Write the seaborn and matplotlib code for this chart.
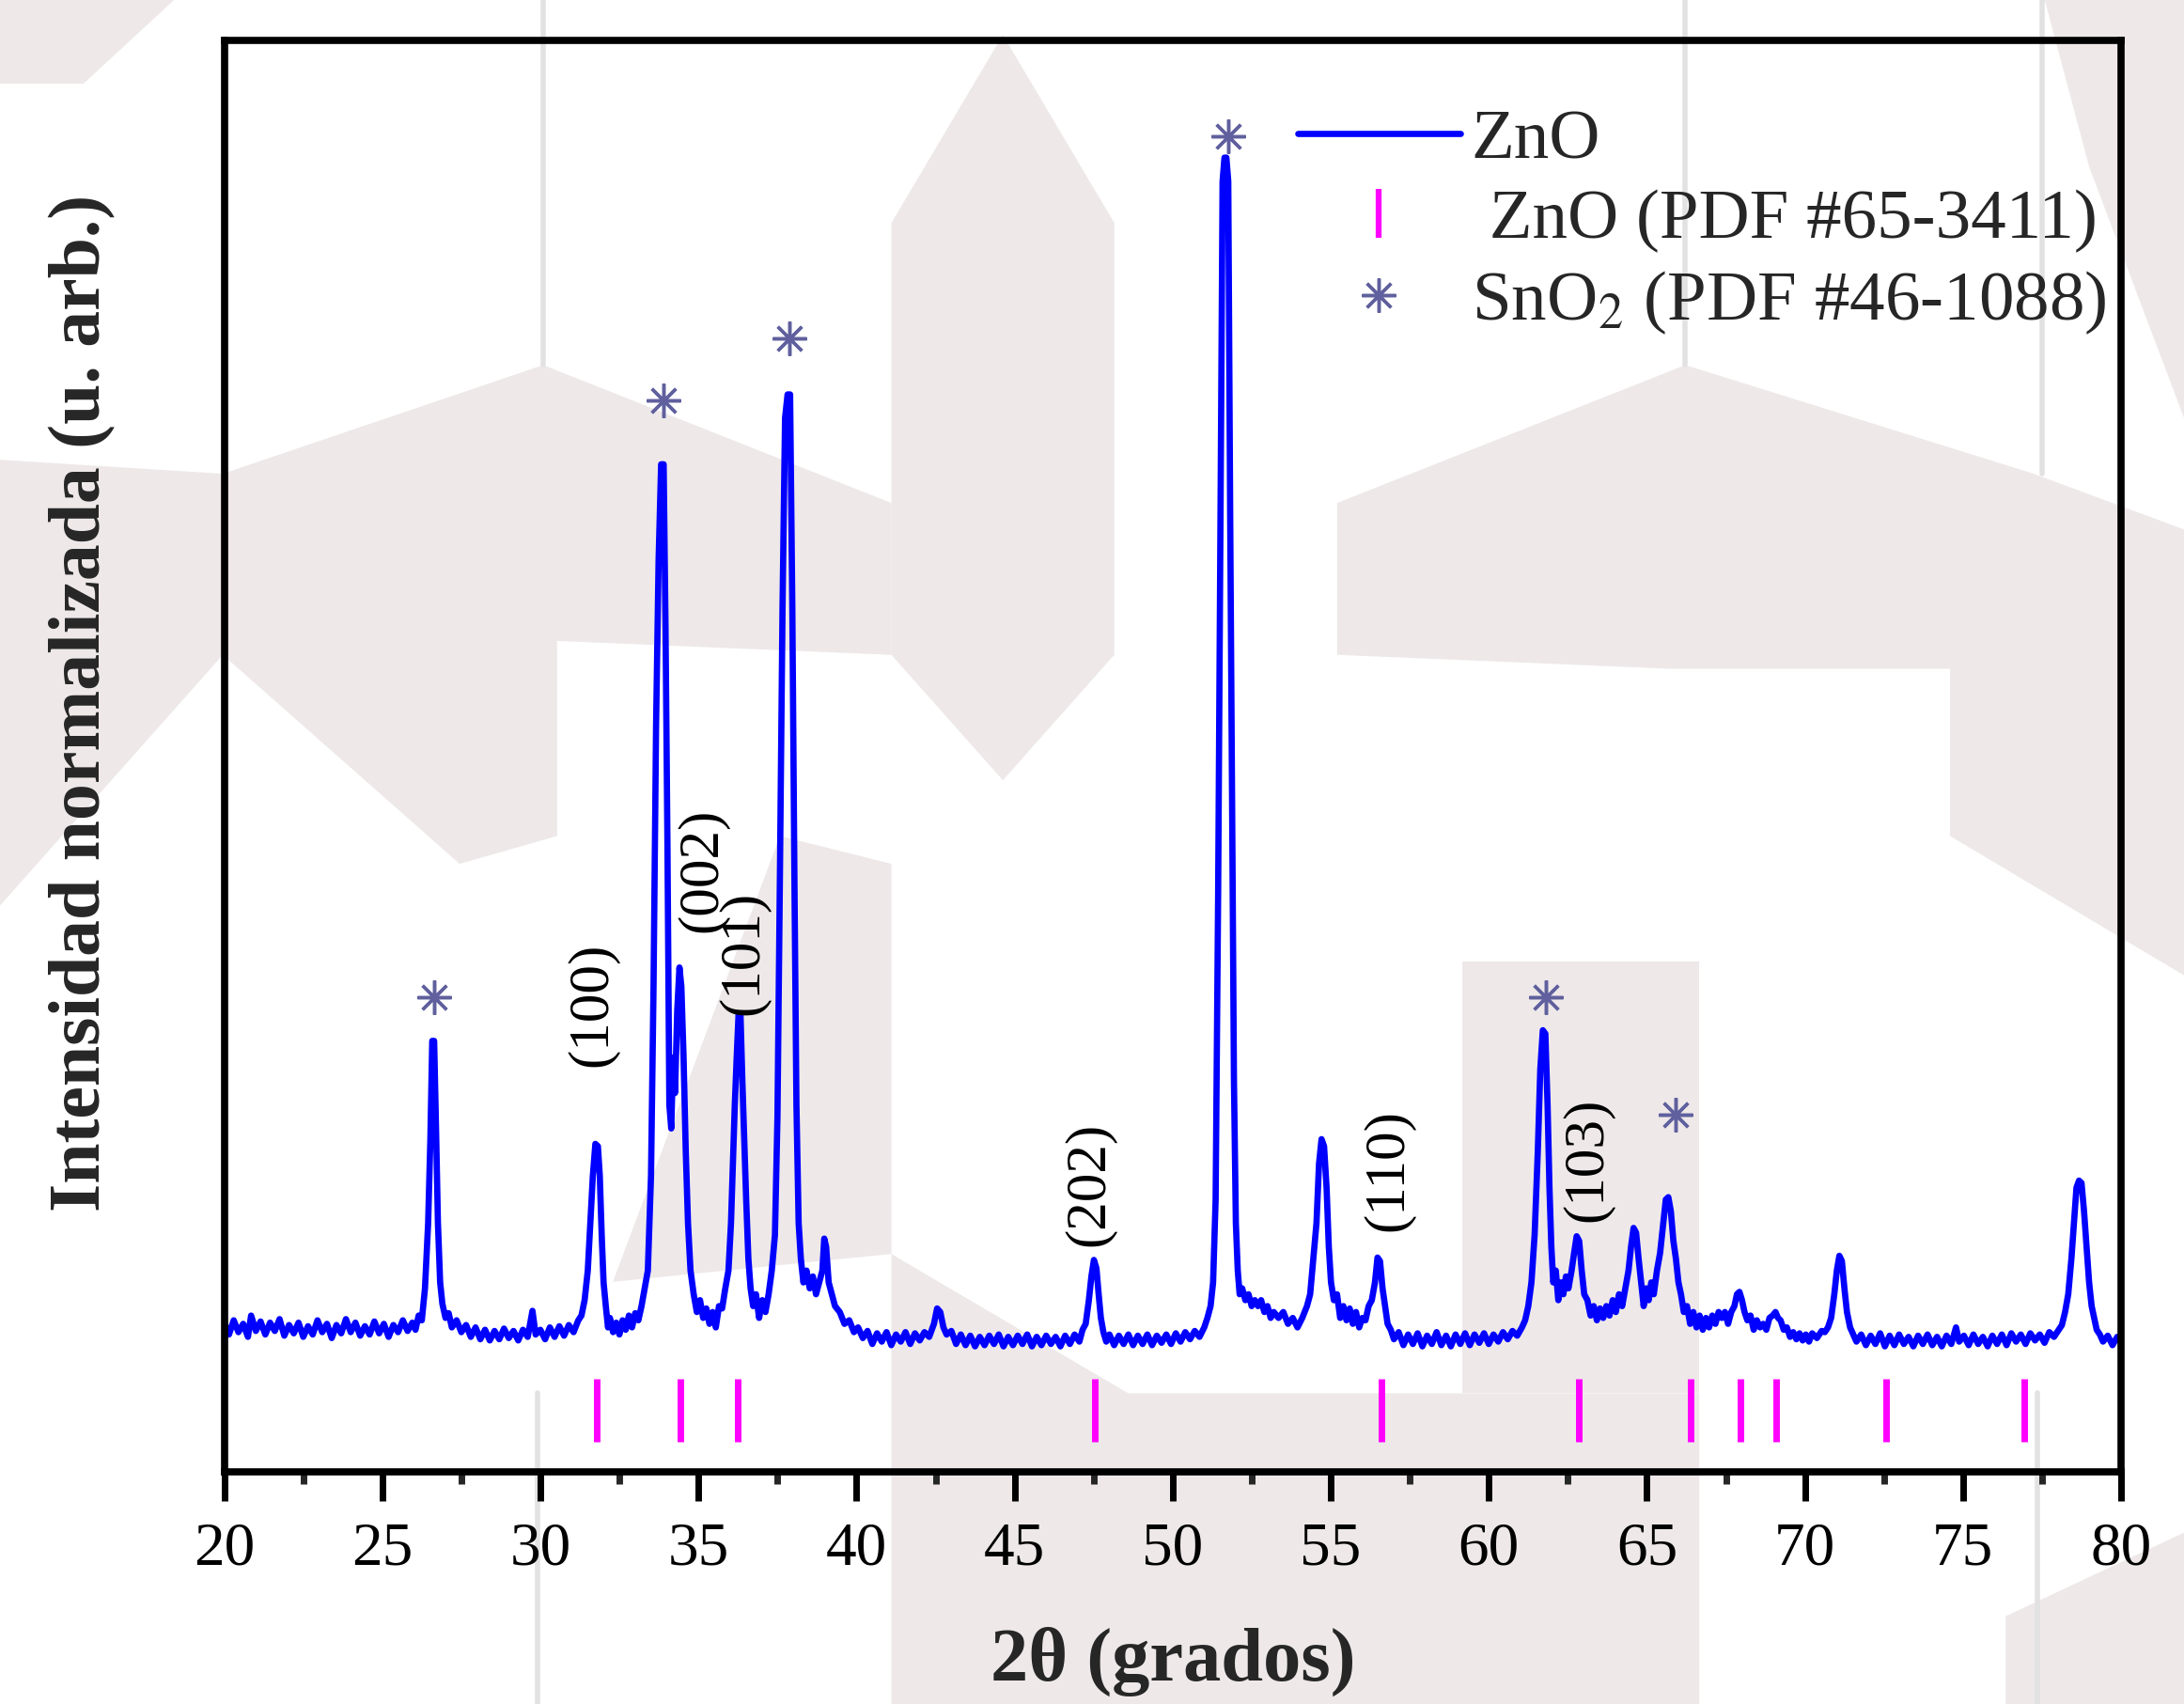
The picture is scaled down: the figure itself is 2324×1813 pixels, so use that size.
import matplotlib
matplotlib.use("Agg")
import matplotlib.pyplot as plt
import seaborn as sns
from matplotlib.lines import Line2D
from matplotlib.patches import Polygon
from matplotlib.ticker import MultipleLocator

sns.set_theme(style="white")
plt.rcParams["font.family"] = ["Liberation Serif", "DejaVu Serif"]
plt.rcParams["mathtext.fontset"] = "stix"

# -------------------------------
# Data (normalised intensity)
# -------------------------------
two_theta = [
    20.0, 20.15, 20.3, 20.45, 20.6, 20.75, 20.85, 21.0, 21.15, 21.3, 21.45, 21.6, 21.75, 21.9,
    22.05, 22.2, 22.35, 22.5, 22.65, 22.8, 22.95, 23.1, 23.25, 23.4, 23.55, 23.7, 23.85, 24.0,
    24.15, 24.3, 24.45, 24.6, 24.75, 24.9, 25.05, 25.2, 25.35, 25.5, 25.65, 25.8, 25.95, 26.05,
    26.15, 26.25, 26.35, 26.45, 26.52, 26.58, 26.64, 26.7, 26.76, 26.83, 26.9, 27.0, 27.1, 27.2,
    27.35, 27.5, 27.65, 27.8, 27.95, 28.1, 28.25, 28.4, 28.55, 28.7, 28.85, 29.0, 29.15, 29.3,
    29.45, 29.6, 29.75, 29.85, 30.0, 30.15, 30.3, 30.45, 30.6, 30.75, 30.9, 31.05, 31.2, 31.3,
    31.4, 31.5, 31.58, 31.66, 31.74, 31.82, 31.88, 31.94, 32.0, 32.07, 32.14, 32.2, 32.3, 32.4,
    32.5, 32.6, 32.7, 32.8, 32.9, 33.0, 33.1, 33.2, 33.3, 33.4, 33.5, 33.58, 33.66, 33.74,
    33.82, 33.9, 33.96, 34.02, 34.08, 34.14, 34.2, 34.26, 34.33, 34.4, 34.46, 34.53, 34.6,
    34.67, 34.75, 34.85, 34.95, 35.05, 35.15, 35.25, 35.35, 35.45, 35.55, 35.65, 35.75, 35.85,
    35.95, 36.03, 36.09, 36.15, 36.21, 36.27, 36.33, 36.39, 36.45, 36.51, 36.58, 36.65, 36.73,
    36.82, 36.92, 37.02, 37.12, 37.22, 37.32, 37.42, 37.5, 37.58, 37.66, 37.74, 37.82, 37.9,
    37.97, 38.04, 38.1, 38.17, 38.24, 38.32, 38.42, 38.52, 38.62, 38.72, 38.82, 38.92, 38.98,
    39.04, 39.12, 39.22, 39.32, 39.47, 39.62, 39.77, 39.92, 40.05, 40.2, 40.35, 40.5, 40.65,
    40.8, 40.95, 41.1, 41.25, 41.4, 41.55, 41.7, 41.85, 42.0, 42.15, 42.3, 42.45, 42.55, 42.65,
    42.75, 42.85, 43.0, 43.15, 43.3, 43.45, 43.6, 43.75, 43.9, 44.05, 44.2, 44.35, 44.5, 44.65,
    44.8, 44.95, 45.1, 45.25, 45.4, 45.55, 45.7, 45.85, 46.0, 46.15, 46.3, 46.45, 46.6, 46.75,
    46.9, 47.05, 47.15, 47.25, 47.35, 47.43, 47.51, 47.59, 47.66, 47.73, 47.81, 47.9, 48.0,
    48.15, 48.3, 48.45, 48.6, 48.75, 48.9, 49.05, 49.2, 49.35, 49.5, 49.65, 49.8, 49.95, 50.1,
    50.25, 50.4, 50.55, 50.7, 50.85, 51.0, 51.1, 51.2, 51.28, 51.36, 51.44, 51.52, 51.58,
    51.64, 51.7, 51.76, 51.82, 51.88, 51.94, 52.0, 52.06, 52.12, 52.2, 52.3, 52.4, 52.5, 52.6,
    52.7, 52.8, 52.9, 53.0, 53.1, 53.2, 53.35, 53.5, 53.65, 53.8, 53.95, 54.1, 54.25, 54.35,
    54.45, 54.55, 54.63, 54.71, 54.79, 54.87, 54.94, 55.01, 55.1, 55.2, 55.3, 55.4, 55.5, 55.6,
    55.7, 55.8, 55.9, 56.0, 56.1, 56.2, 56.3, 56.4, 56.48, 56.56, 56.64, 56.72, 56.8, 56.9,
    57.0, 57.15, 57.3, 57.45, 57.6, 57.75, 57.9, 58.05, 58.2, 58.35, 58.5, 58.65, 58.8, 58.95,
    59.1, 59.25, 59.4, 59.55, 59.7, 59.85, 60.0, 60.15, 60.3, 60.45, 60.6, 60.75, 60.9, 61.05,
    61.15, 61.25, 61.35, 61.45, 61.55, 61.63, 61.71, 61.79, 61.86, 61.92, 61.98, 62.04, 62.12,
    62.2, 62.28, 62.36, 62.44, 62.52, 62.62, 62.7, 62.78, 62.86, 62.94, 63.02, 63.12, 63.22,
    63.32, 63.42, 63.52, 63.62, 63.72, 63.82, 63.92, 64.02, 64.12, 64.22, 64.32, 64.42, 64.5,
    64.58, 64.66, 64.74, 64.82, 64.9, 64.98, 65.06, 65.14, 65.22, 65.32, 65.42, 65.52, 65.6,
    65.68, 65.76, 65.84, 65.92, 66.0, 66.08, 66.17, 66.27, 66.37, 66.47, 66.57, 66.67, 66.77,
    66.87, 66.97, 67.07, 67.17, 67.27, 67.37, 67.47, 67.57, 67.67, 67.77, 67.85, 67.93, 68.01,
    68.09, 68.18, 68.28, 68.38, 68.48, 68.58, 68.68, 68.78, 68.88, 68.98, 69.07, 69.15, 69.23,
    69.33, 69.43, 69.53, 69.63, 69.73, 69.83, 69.93, 70.03, 70.13, 70.23, 70.38, 70.53, 70.63,
    70.73, 70.83, 70.93, 71.01, 71.09, 71.17, 71.25, 71.33, 71.43, 71.53, 71.63, 71.78, 71.93,
    72.08, 72.23, 72.38, 72.53, 72.68, 72.83, 72.98, 73.13, 73.28, 73.43, 73.58, 73.73, 73.88,
    74.03, 74.18, 74.33, 74.48, 74.63, 74.78, 74.88, 75.03, 75.18, 75.33, 75.48, 75.63, 75.78,
    75.93, 76.08, 76.23, 76.38, 76.53, 76.68, 76.83, 76.98, 77.13, 77.28, 77.43, 77.58, 77.73,
    77.88, 78.03, 78.13, 78.23, 78.33, 78.43, 78.51, 78.59, 78.67, 78.75, 78.83, 78.91, 78.99,
    79.07, 79.15, 79.23, 79.33, 79.43, 79.58, 79.73, 79.88, 80.0,
]

intensity = [
    0.016, 0.006, 0.018, 0.008, 0.015, 0.004, 0.022, 0.009, 0.017, 0.006, 0.016, 0.009, 0.019, 0.005,
    0.014, 0.007, 0.016, 0.004, 0.013, 0.006, 0.018, 0.008, 0.015, 0.003, 0.014, 0.007, 0.019, 0.008,
    0.016, 0.005, 0.013, 0.006, 0.017, 0.007, 0.015, 0.004, 0.014, 0.008, 0.018, 0.009, 0.016, 0.010,
    0.022, 0.018, 0.045, 0.100, 0.170, 0.254, 0.254, 0.180, 0.100, 0.050, 0.032, 0.020, 0.024, 0.012,
    0.018, 0.008, 0.014, 0.004, 0.012, 0.002, 0.010, 0.001, 0.009, 0.002, 0.011, 0.003, 0.009, 0.001,
    0.010, 0.004, 0.026, 0.006, 0.010, 0.002, 0.012, 0.004, 0.013, 0.005, 0.014, 0.008, 0.018, 0.022,
    0.035, 0.060, 0.100, 0.140, 0.167, 0.165, 0.140, 0.090, 0.050, 0.030, 0.012, 0.020, 0.008, 0.016,
    0.006, 0.018, 0.010, 0.022, 0.012, 0.024, 0.018, 0.030, 0.045, 0.060, 0.140, 0.300, 0.520, 0.660,
    0.741, 0.741, 0.600, 0.420, 0.200, 0.180, 0.240, 0.210, 0.280, 0.316, 0.300, 0.240, 0.160,
    0.100, 0.060, 0.040, 0.025, 0.035, 0.020, 0.028, 0.015, 0.025, 0.012, 0.030, 0.028, 0.045,
    0.060, 0.100, 0.150, 0.200, 0.240, 0.277, 0.277, 0.220, 0.170, 0.120, 0.070, 0.045, 0.030,
    0.040, 0.020, 0.035, 0.025, 0.040, 0.060, 0.090, 0.190, 0.400, 0.620, 0.780, 0.800, 0.800,
    0.620, 0.380, 0.200, 0.100, 0.070, 0.050, 0.060, 0.045, 0.055, 0.040, 0.050, 0.060, 0.087,
    0.080, 0.050, 0.040, 0.030, 0.025, 0.015, 0.018, 0.008, 0.012, 0.003, 0.009, -0.002, 0.007,
    0.000, 0.008, -0.003, 0.006, 0.000, 0.008, -0.002, 0.007, 0.001, 0.008, 0.004, 0.015, 0.028, 0.025,
    0.012, 0.006, 0.009, -0.002, 0.006, -0.003, 0.005, -0.004, 0.004, -0.003, 0.005, -0.002, 0.006, -0.004,
    0.004, -0.003, 0.005, -0.002, 0.006, -0.004, 0.004, -0.003, 0.005, -0.002, 0.004, -0.004, 0.005, -0.002,
    0.006, 0.000, 0.010, 0.015, 0.035, 0.055, 0.069, 0.062, 0.040, 0.020, 0.008, 0.000, 0.006,
    -0.003, 0.005, -0.002, 0.006, -0.003, 0.005, -0.002, 0.006, -0.003, 0.005, -0.001, 0.006, -0.002, 0.007,
    0.000, 0.008, 0.002, 0.009, 0.004, 0.012, 0.020, 0.030, 0.050, 0.120, 0.380, 0.720, 0.980,
    1.000, 1.000, 0.980, 0.700, 0.460, 0.220, 0.100, 0.060, 0.040, 0.045, 0.035, 0.040, 0.030, 0.035,
    0.030, 0.035, 0.025, 0.030, 0.020, 0.025, 0.020, 0.025, 0.015, 0.020, 0.012, 0.020, 0.030, 0.040,
    0.070, 0.100, 0.150, 0.171, 0.165, 0.130, 0.080, 0.050, 0.035, 0.040, 0.020, 0.030, 0.018, 0.028,
    0.015, 0.025, 0.012, 0.020, 0.018, 0.030, 0.035, 0.050, 0.071, 0.068, 0.045, 0.030, 0.015, 0.010,
    0.002, 0.008, -0.003, 0.006, -0.002, 0.007, -0.004, 0.005, -0.002, 0.008, -0.003, 0.005, -0.004, 0.006,
    -0.002, 0.007, -0.003, 0.006, -0.001, 0.007, -0.002, 0.006, 0.000, 0.008, 0.002, 0.009, 0.005, 0.012,
    0.018, 0.030, 0.050, 0.090, 0.160, 0.230, 0.263, 0.260, 0.200, 0.130, 0.080, 0.050, 0.060,
    0.035, 0.050, 0.040, 0.055, 0.045, 0.060, 0.075, 0.089, 0.085, 0.060, 0.040, 0.035, 0.022,
    0.030, 0.018, 0.028, 0.020, 0.030, 0.022, 0.035, 0.025, 0.040, 0.030, 0.045, 0.060, 0.080,
    0.096, 0.092, 0.070, 0.050, 0.030, 0.045, 0.035, 0.050, 0.040, 0.060, 0.075, 0.100, 0.120,
    0.122, 0.110, 0.085, 0.070, 0.050, 0.040, 0.025, 0.030, 0.015, 0.025, 0.012, 0.022, 0.010,
    0.020, 0.012, 0.022, 0.015, 0.025, 0.020, 0.025, 0.015, 0.025, 0.030, 0.040, 0.042, 0.035,
    0.025, 0.018, 0.022, 0.010, 0.018, 0.012, 0.015, 0.010, 0.020, 0.022, 0.025, 0.020, 0.018,
    0.010, 0.012, 0.004, 0.008, 0.002, 0.007, 0.001, 0.006, 0.000, 0.007, 0.003, 0.009, 0.008,
    0.012, 0.020, 0.040, 0.060, 0.0725, 0.068, 0.045, 0.025, 0.012, 0.006, 0.000, 0.006, -0.003,
    0.005, -0.002, 0.007, -0.004, 0.005, -0.003, 0.006, -0.002, 0.004, -0.004, 0.005, -0.002, 0.006,
    -0.003, 0.004, -0.004, 0.005, -0.002, 0.012, 0.000, 0.005, -0.003, 0.006, -0.002, 0.004, -0.004,
    0.005, -0.002, 0.006, -0.003, 0.007, 0.000, 0.006, -0.002, 0.007, 0.001, 0.006, -0.001, 0.008,
    0.004, 0.010, 0.014, 0.025, 0.040, 0.070, 0.100, 0.130, 0.136, 0.134, 0.110, 0.080, 0.050,
    0.030, 0.020, 0.010, 0.006, 0.000, 0.005, -0.003, 0.004, 0.000,
]

# ZnO reference lines (PDF #65-3411)
zno_ref_2theta = [31.77, 34.42, 36.25, 47.54, 56.60, 62.86, 66.38, 67.96, 69.10, 72.56, 76.95]

# SnO2 peaks marked with asterisks (PDF #46-1088)
sno2_2theta = [26.65, 33.88, 37.88, 51.76, 61.82, 65.92]
sno2_marker_y = [0.291, 0.795, 0.847, 1.018, 0.291, 0.192]

# Miller indices of the ZnO peaks
hkl_labels = ["(100)", "(002)", "(101)", "(202)", "(110)", "(103)"]
hkl_2theta = [31.64, 35.12, 36.45, 47.36, 56.83, 63.13]
hkl_y = [0.285, 0.398, 0.328, 0.133, 0.145, 0.154]

W, H = 2324, 1813
fig = plt.figure(figsize=(W / 100, H / 100), dpi=100)
fig.patch.set_facecolor("white")

# -------------------------------
# Background watermark (light tiled pattern)
# -------------------------------
def fpt(pts):
    return [(x / 1568, 1 - y / 1223) for x, y in pts]

bg_gray = "#eee8e9"
gray_polys = [
    [(0, 0), (125, 0), (60, 60), (0, 60)],
    [(720, 25), (800, 160), (800, 470), (720, 560), (640, 470), (640, 160)],
    [(390, 262), (640, 361), (640, 470), (400, 460), (400, 600), (330, 620), (160, 470), (160, 340)],
    [(1210, 262), (1460, 340), (1568, 380), (1568, 700), (1400, 600), (1400, 480), (1200, 480),
     (960, 470), (960, 361)],
    [(0, 330), (160, 340), (160, 470), (0, 650)],
    [(560, 600), (640, 620), (640, 900), (440, 920)],
    [(640, 900), (810, 1000), (1220, 1000), (1220, 1223), (640, 1223)],
    [(1050, 690), (1220, 690), (1220, 1000), (1050, 1000)],
    [(1440, 1160), (1568, 1100), (1568, 1223), (1440, 1223)],
    [(1468, 0), (1568, 0), (1568, 300), (1500, 120)],
]
for pts in gray_polys:
    fig.add_artist(Polygon(fpt(pts), closed=True, facecolor=bg_gray, edgecolor="none",
                           transform=fig.transFigure, zorder=-10))

bg_lines = [
    [(390, 0), (390, 262)], [(1210, 0), (1210, 262)], [(1466, 0), (1466, 340)],
    [(386, 1000), (386, 1223)], [(1463, 1000), (1463, 1223)],
]
for pts in bg_lines:
    xs, ys = zip(*fpt(pts))
    fig.add_artist(Line2D(xs, ys, color="#e2e2e2", lw=4, transform=fig.transFigure, zorder=-9))

# -------------------------------
# Axes
# -------------------------------
ax = fig.add_axes([238.6 / W, 1 - 1566 / H, (2257 - 238.6) / W, (1566 - 43) / H])
ax.set_facecolor("none")

sns.lineplot(x=two_theta, y=intensity, ax=ax, color="#0000ff", lw=4.8,
             sort=False, estimator=None, label="ZnO")

ax.vlines(zno_ref_2theta, -0.0845, -0.0315, color="#ff00ff", lw=5)

ast_color = "#60609e"
ax.plot(sno2_2theta, sno2_marker_y, linestyle="none", marker=(8, 2, 0),
        markersize=26, markeredgewidth=2.5, color=ast_color)

for lab, xx, yy in zip(hkl_labels, hkl_2theta, hkl_y):
    ax.text(xx, yy, lab, rotation=90, ha="center", va="center", fontsize=44, color="black")

ax.set_xlim(20, 80)
ax.set_ylim(-0.110, 1.099)
ax.set_yticks([])
ax.xaxis.set_major_locator(MultipleLocator(5))
ax.xaxis.set_minor_locator(MultipleLocator(2.5))
ax.tick_params(axis="x", which="major", direction="out", length=22, width=5,
               pad=16, labelsize=47, bottom=True, top=False, colors="black")
ax.tick_params(axis="x", which="minor", direction="out", length=9, width=5,
               bottom=True, top=False)

for sp in ax.spines.values():
    sp.set_visible(True)
    sp.set_color("black")
    sp.set_linewidth(5.5)

ax.set_xlabel("2θ (grados)", fontsize=58, fontweight="bold")
ax.xaxis.set_label_coords(0.5, -0.108)
ax.set_ylabel("Intensidad normalizada (u. arb.)", fontsize=56, fontweight="bold")
ax.yaxis.set_label_coords(-0.057, 0.537)

handles = [
    Line2D([], [], color="#0000ff", lw=4.8),
    Line2D([], [], color="#ff00ff", marker="|", linestyle="none", markersize=37, markeredgewidth=4.5),
    Line2D([], [], color=ast_color, marker=(8, 2, 0), linestyle="none", markersize=26,
           markeredgewidth=2.5),
]
labels = ["ZnO", " ZnO (PDF #65-3411)", "SnO$_2$ (PDF #46-1088)"]
ax.legend(handles, labels, loc="upper left", bbox_to_anchor=(0.566, 0.952), frameon=False,
          fontsize=54, handlelength=2.3, handletextpad=0.16, labelspacing=0.22,
          borderaxespad=0, borderpad=0)

plt.savefig("out.png", dpi=100)
